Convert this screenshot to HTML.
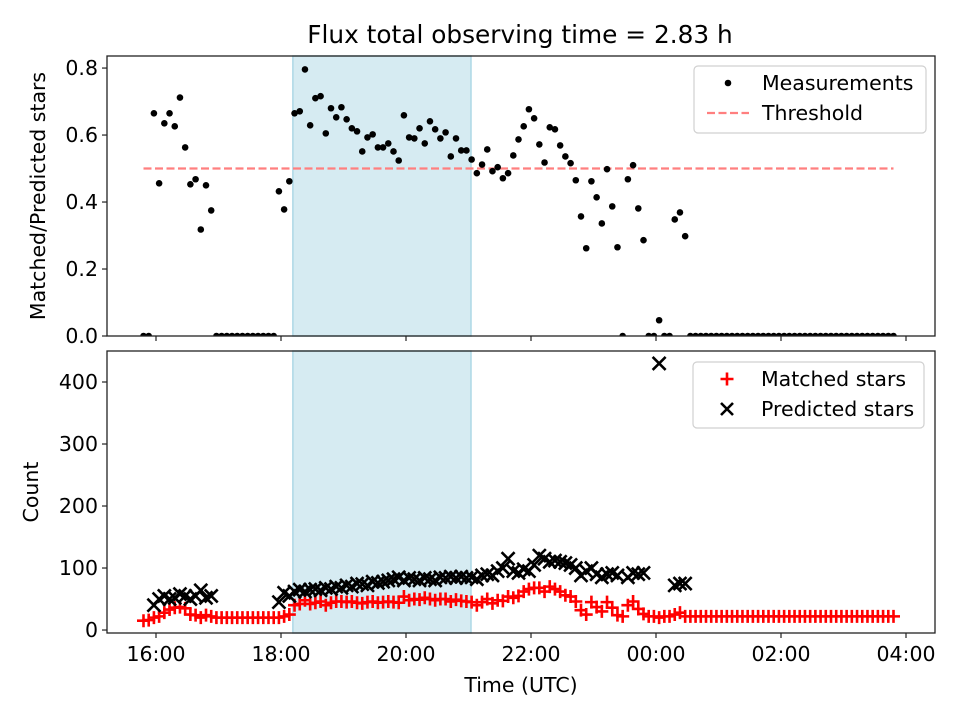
<!DOCTYPE html>
<html><head><meta charset="utf-8"><style>
html,body{margin:0;padding:0;background:#fff;}
svg{display:block;font-family:"DejaVu Sans","Liberation Sans",sans-serif;}
</style></head><body>
<svg id="chart" width="960" height="720" viewBox="0 0 960 720"></svg>
<script>
// ---- data (5-minute cadence starting at 15:48 UTC, hours; >24 = after midnight) ----
const startHour = 15.80;
const cadenceHours = 5/60;
const ratioValues = [0,0,0.665,0.456,0.635,0.665,0.626,0.712,0.563,0.453,0.468,0.318,0.45,0.375,
 0,0,0,0,0,0,0,0,0,0,0,0,
 0.432,0.378,0.462,0.665,0.671,0.796,0.629,0.71,0.716,0.605,0.68,0.653,0.683,0.647,0.62,0.611,0.551,0.593,0.602,0.563,0.563,0.575,0.551,0.524,
 0.659,0.593,0.59,0.62,0.575,0.641,0.617,0.59,0.608,0.536,0.59,0.554,0.554,0.527,0.486,0.512,0.557,0.492,0.504,0.471,0.486,0.539,0.587,0.626,0.677,0.65,
 0.572,0.518,0.623,0.617,0.569,0.536,0.516,0.465,0.357,0.262,0.462,0.414,0.336,0.498,0.387,0.265,0,0.468,0.51,0.381,0.286,0,0,0.047,0,0,0.348,0.369,0.298,
 0,0,0,0,0,0,0,0,0,0,0,0,0,0,0,0,0,0,0,0,0,0,0,0,0,0,0,0,0,0,0,0,0,0,0,0,0,0,0,0];
const matchedValues = [15,16,20,22,28,33,36,37,35,25,24,20,24,22,
 20,20,20,20,20,20,20,20,20,20,20,20,
 20,22,25,40,42,48,42,44,46,40,44,46,46,45,46,44,43,45,46,44,45,46,45,44,
 54,48,50,49,52,50,48,50,50,46,49,47,46,45,40,45,50,43,48,47,54,52,55,62,66,68,
 68,62,70,66,62,56,54,46,32,25,45,37,30,45,36,24,22,40,46,34,26,22,22,20,22,22,25,28,22,
 22,22,22,22,22,22,22,22,22,22,22,22,22,22,22,22,22,22,22,22,22,22,22,22,22,22,22,22,22,22,22,22,22,22,22,22,22,22,22,22];
const predictedValues = [null,null,40,50,55,50,52,58,55,50,55,64,52,55,
 null,null,null,null,null,null,null,null,null,null,null,null,
 45,60,55,62,65,62,65,66,64,68,66,70,68,72,70,75,74,72,78,76,78,80,82,85,
 80,84,82,80,84,82,80,85,84,86,84,86,84,85,82,88,90,88,95,100,115,95,92,98,95,105,
 120,115,110,112,110,108,105,100,88,95,100,90,85,90,92,88,null,85,92,90,92,null,null,430,null,null,72,75,75];
const threshold = 0.5;
const spanStart = 18.19, spanEnd = 21.04;
const xTickHours = [16,18,20,22,24,26,28];
const xTickLabels = ["16:00","18:00","20:00","22:00","00:00","02:00","04:00"];
const ratioTicks = [0.0,0.2,0.4,0.6,0.8];
const countTicks = [0,100,200,300,400];

// ---- layout ----
const NS="http://www.w3.org/2000/svg";
const svg=document.getElementById('chart');
const L=107,R=935;
const top1=56,bot1=336,top2=351,bot2=633;
const xMin=15.216,xMax=28.464;
const xs=t=>L+(t-xMin)/(xMax-xMin)*(R-L);
const y1Min=0,y1Max=0.836;
const y1=v=>bot1-(v-y1Min)/(y1Max-y1Min)*(bot1-top1);
const y2Min=-4.8,y2Max=450;
const y2=v=>bot2-(v-y2Min)/(y2Max-y2Min)*(bot2-top2);
function mk(tag,attrs,parent){const e=document.createElementNS(NS,tag);for(const k in attrs)e.setAttribute(k,attrs[k]);(parent||svg).appendChild(e);return e;}
const FS=20.5;

// title
const title=mk('text',{x:520,y:43,'text-anchor':'middle','font-size':24.8,fill:'#000'});
title.textContent='Flux total observing time = 2.83 h';



// clip paths
const defs=mk('defs',{});
const c1=mk('clipPath',{id:'c1'},defs);mk('rect',{x:L,y:top1,width:R-L,height:bot1-top1},c1);
const c2=mk('clipPath',{id:'c2'},defs);mk('rect',{x:L,y:top2,width:R-L,height:bot2-top2},c2);

function panel(name,top,bot,clip,yfn,ticks,fmt,ylabel,ylabelX){
  const g=mk('g',{});
  
  
  const shade=mk('rect',{x:xs(spanStart),y:top,width:xs(spanEnd)-xs(spanStart),height:bot-top,fill:'#add8e6','fill-opacity':0.5,stroke:'#add8e6','stroke-width':1.5},g);
  
  
  const plot=mk('g',{'clip-path':'url(#'+clip+')'},g);
  ticks.forEach(v=>{
    const yy=yfn(v);
    mk('line',{x1:L-5,x2:L,y1:yy,y2:yy,stroke:'#222','stroke-width':1.2},g);
    const t=mk('text',{x:L-9,y:yy+7,'text-anchor':'end','font-size':FS,fill:'#000'},g);
    t.textContent=fmt(v);
    
    
  });
  xTickHours.forEach((h,i)=>{
    mk('line',{x1:xs(h),x2:xs(h),y1:bot,y2:bot+5,stroke:'#222','stroke-width':1.2},g);
  });
  const yl=mk('text',{x:ylabelX,y:(top+bot)/2,'text-anchor':'middle','font-size':FS,fill:'#000',transform:'rotate(-90 '+ylabelX+' '+((top+bot)/2)+')'},g);
  yl.textContent=ylabel;
  
  
  return {g,plot,frame:()=>mk('rect',{x:L,y:top,width:R-L,height:bot-top,fill:'none',stroke:'#222','stroke-width':1.3},g)};
}

// top panel
const p1=panel('ratio-panel',top1,bot1,'c1',y1,ratioTicks,v=>v.toFixed(1),'Matched/Predicted stars',45);
const tIdxFirst=startHour, tIdxLast=startHour+(ratioValues.length-1)*cadenceHours;
const th=mk('line',{x1:xs(tIdxFirst),x2:xs(tIdxLast),y1:y1(threshold),y2:y1(threshold),stroke:'#ff7f7f','stroke-width':2.2,'stroke-dasharray':'8,3.5'},p1.plot);


ratioValues.forEach((v,i)=>{
  if(v===null)return;
  const c=mk('circle',{cx:xs(startHour+i*cadenceHours),cy:y1(v),r:3.3,fill:'#000'},p1.plot);
  
  
});
p1.frame();

// bottom panel
const p2=panel('count-panel',top2,bot2,'c2',y2,countTicks,v=>String(v),'Count',38);
matchedValues.forEach((v,i)=>{
  if(v===null)return;
  const cx=xs(startHour+i*cadenceHours),cy=y2(v),s=6.5;
  const m=mk('path',{d:`M${cx-s},${cy}H${cx+s}M${cx},${cy-s}V${cy+s}`,stroke:'#ff0000','stroke-width':2.6,fill:'none'},p2.plot);
  
  
});
predictedValues.forEach((v,i)=>{
  if(v===null)return;
  const cx=xs(startHour+i*cadenceHours),cy=y2(v),s=6.5;
  const m=mk('path',{d:`M${cx-s},${cy-s}L${cx+s},${cy+s}M${cx-s},${cy+s}L${cx+s},${cy-s}`,stroke:'#000','stroke-width':2.6,fill:'none'},p2.plot);
  
  
});
p2.frame();
xTickHours.forEach((h,i)=>{
  const t=mk('text',{x:xs(h),y:bot2+28,'text-anchor':'middle','font-size':FS,fill:'#000'});
  t.textContent=xTickLabels[i];
  
  
});
const xl=mk('text',{x:(L+R)/2,y:692,'text-anchor':'middle','font-size':FS,fill:'#000'});
xl.textContent='Time (UTC)';



// legends
function legend(name,x,y,w,h,entries){
  const g=mk('g',{});
  
  
  mk('rect',{x:x,y:y,width:w,height:h,rx:4,fill:'#fff','fill-opacity':0.8,stroke:'#d0d0d0','stroke-width':1.2},g);
  entries.forEach((e,i)=>{
    const cy=y+17+i*30;
    const eg=mk('g',{},g);
    
    
    const mx=x+34;
    if(e.kind==='dot')mk('circle',{cx:mx,cy:cy,r:3.3,fill:'#000'},eg);
    if(e.kind==='dash')mk('line',{x1:x+13,x2:x+55,y1:cy,y2:cy,stroke:'#ff7f7f','stroke-width':2.2,'stroke-dasharray':'8,3.5'},eg);
    if(e.kind==='plus')mk('path',{d:`M${mx-6.5},${cy}H${mx+6.5}M${mx},${cy-6.5}V${cy+6.5}`,stroke:'#f00','stroke-width':2.6},eg);
    if(e.kind==='x')mk('path',{d:`M${mx-6},${cy-6}L${mx+6},${cy+6}M${mx-6},${cy+6}L${mx+6},${cy-6}`,stroke:'#000','stroke-width':2.6},eg);
    const t=mk('text',{x:x+68,y:cy+7,'font-size':FS,fill:'#000'},eg);
    t.textContent=e.label;
  });
}
legend('ratio-legend',694,66,232,67,[{kind:'dot',label:'Measurements'},{kind:'dash',label:'Threshold'}]);
legend('count-legend',693,362,231,66,[{kind:'plus',label:'Matched stars'},{kind:'x',label:'Predicted stars'}]);
</script>
</body></html>
